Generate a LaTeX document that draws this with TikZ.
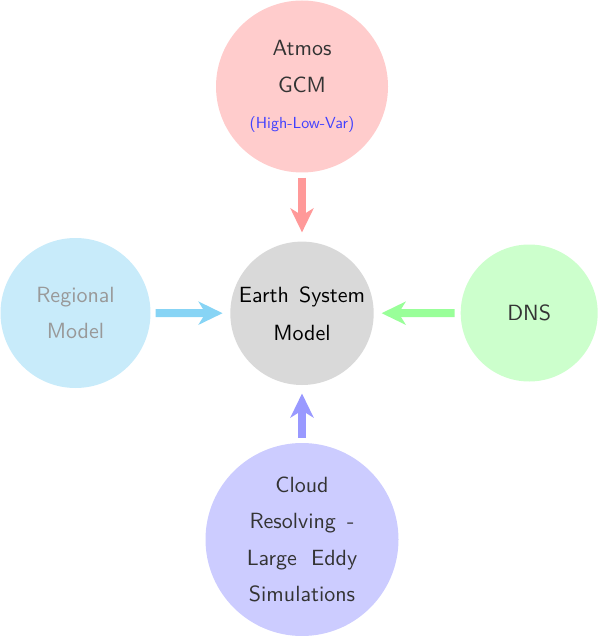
\documentclass[tikz,border=0pt]{standalone}
\usepackage{fontspec}
\setsansfont{lmsans10-regular.otf}
\usetikzlibrary{arrows.meta}
\definecolor{topfill}{HTML}{FFCCCC}
\definecolor{leftfill}{HTML}{C8EBFA}
\definecolor{rightfill}{HTML}{CCFFCC}
\definecolor{botfill}{HTML}{CCCCFF}
\definecolor{cenfill}{HTML}{D9D9D9}
\definecolor{toparr}{HTML}{FF9999}
\definecolor{leftarr}{HTML}{87D4F5}
\definecolor{rightarr}{HTML}{99FF99}
\definecolor{botarr}{HTML}{9999FF}
\definecolor{txt}{HTML}{333333}
\definecolor{greytxt}{HTML}{999999}
\definecolor{bluetxt}{HTML}{4040FF}
\tikzset{
  bubble/.style={circle, inner sep=0pt, align=center, text=txt,
    font=\sffamily\fontsize{22}{36.5}\selectfont},
  feed/.style={line width=8pt, -{Stealth[length=24pt,width=23pt,inset=7pt]}}
}
\begin{document}
\begin{tikzpicture}[x=1pt,y=-1pt]
\useasboundingbox (0,0) rectangle (599,636);
\node[bubble, fill=cenfill, minimum size=143.4pt, text=black,
  font=\sffamily\fontsize{22}{38}\selectfont] (esm) at (302,313.3)
  {Earth\hspace{0.46em}System\\Model};
\node[bubble, fill=topfill, minimum size=172pt] (gcm) at (302,86.5)
  {Atmos\\GCM\\{\fontsize{16}{36.5}\selectfont\color{bluetxt}(High-Low-Var)}};
\node[bubble, fill=leftfill, minimum size=150pt, text=greytxt] (reg) at (75.5,313)
  {Regional\\Model};
\node[bubble, fill=rightfill, minimum size=137pt] (dns) at (529.2,313)
  {DNS};
\node[bubble, fill=botfill, minimum size=193pt] (cres) at (302,539.5)
  {Cloud\\Resolving\hspace{0.51em}-\\Large\hspace{0.65em}Eddy\\Simulations};
\draw[feed, toparr, shorten <=5pt, shorten >=9pt] (gcm) -- (esm);
\draw[feed, leftarr, shorten <=5pt, shorten >=7.5pt] (reg) -- (esm);
\draw[feed, rightarr, shorten <=6pt, shorten >=7.7pt] (dns) -- (esm);
\draw[feed, botarr, shorten <=5.3pt, shorten >=8.3pt] (cres) -- (esm);
\end{tikzpicture}
\end{document}
